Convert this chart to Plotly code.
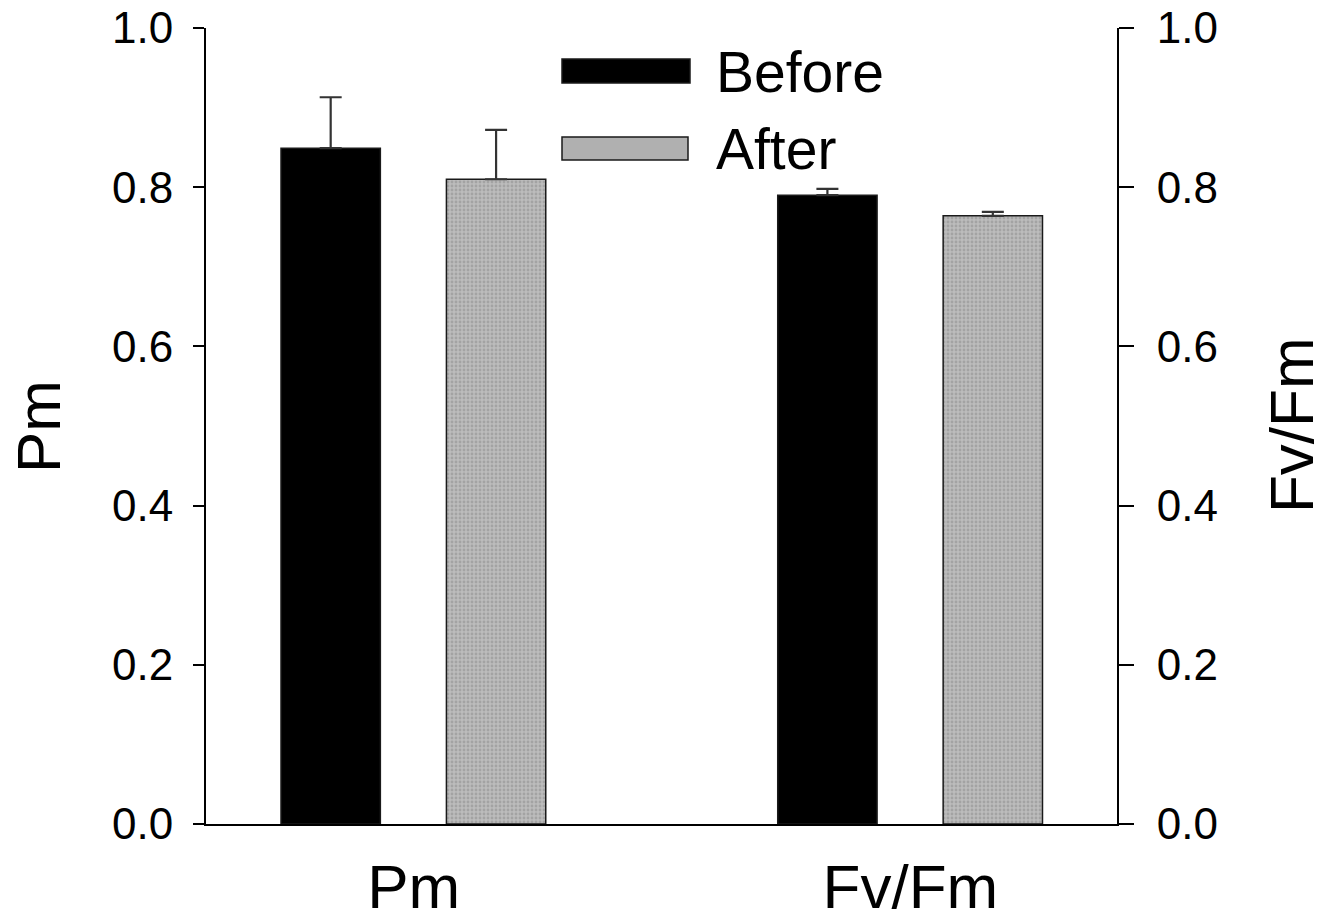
import plotly.graph_objects as go

categories = ["Pm", "Fv/Fm"]
before_vals = [0.849, 0.790]
after_vals = [0.810, 0.764]
before_err = [0.064, 0.008]
after_err = [0.062, 0.005]
y_ticks = [0.0, 0.2, 0.4, 0.6, 0.8, 1.0]
legend_names = ["Before", "After"]
left_title = "Pm"
right_title = "Fv/Fm"

FONT = "Liberation Sans, Arial, sans-serif"
W, H = 1328, 923
# plot area in page pixels: x 206..1117, y 28..824
X0, X1, Y0, Y1 = 206, 1117, 28, 824
L, T, R, B = X0, Y0, W - X1, H - Y1
pw, ph = X1 - X0, Y1 - Y0

def px(x):
    return (x - X0) / pw

def py(y):
    return (Y1 - y) / ph

fig = go.Figure()
fig.add_trace(go.Bar(
    x=categories, y=before_vals, name=legend_names[0],
    width=0.2, offset=-0.267,
    marker=dict(color="#000000", line=dict(color="#1a1a1a", width=1.5)),
    error_y=dict(type="data", symmetric=False, array=before_err,
                 arrayminus=[0] * len(before_err),
                 color="#333333", thickness=2.2, width=11),
    showlegend=False,
))
fig.add_trace(go.Bar(
    x=categories, y=after_vals, name=legend_names[1],
    width=0.2, offset=0.066,
    marker=dict(color="#b0b0b0", line=dict(color="#1a1a1a", width=1.5),
                pattern=dict(shape=".", fgcolor="#8a8a8a", bgcolor="#bcbcbc",
                             size=4, solidity=0.4)),
    error_y=dict(type="data", symmetric=False, array=after_err,
                 arrayminus=[0] * len(after_err),
                 color="#333333", thickness=2.2, width=11),
    showlegend=False,
))
# invisible trace to anchor the right axis
fig.add_trace(go.Scatter(x=[categories[0]], y=[None], yaxis="y2",
                         showlegend=False, hoverinfo="skip"))

axis_common = dict(
    range=[0, 1], tickvals=y_ticks, tickformat=".1f",
    showline=True, linecolor="#000", linewidth=2,
    ticks="outside", tickcolor="#000", tickwidth=2,
    tickfont=dict(family=FONT, size=44, color="#000"),
    showgrid=False, zeroline=False, automargin=False,
    ticklabeloverflow="allow",
)

fig.update_layout(
    width=W, height=H,
    margin=dict(l=L, r=R, t=T, b=B, pad=0),
    paper_bgcolor="white", plot_bgcolor="white",
    font=dict(family=FONT, color="#000"),
    xaxis=dict(
        type="category", range=[-0.418, 1.416],
        showline=True, linecolor="#000", linewidth=2,
        ticks="", showgrid=False, zeroline=False, automargin=False,
        tickfont=dict(family=FONT, size=62, color="#000"),
        ticklabelstandoff=8, ticklabeloverflow="allow",
    ),
    yaxis=dict(**axis_common, ticklen=11, ticklabelstandoff=11),
    yaxis2=dict(**axis_common, ticklen=15, ticklabelstandoff=14,
                overlaying="y", side="right"),
)

# axis titles as rotated annotations
fig.add_annotation(xref="paper", yref="paper", x=px(38), y=py(427), text=left_title,
                   textangle=-90, showarrow=False, xanchor="center", yanchor="middle",
                   font=dict(family=FONT, size=62, color="#000"))
fig.add_annotation(xref="paper", yref="paper", x=px(1291), y=py(425), text=right_title,
                   textangle=-90, showarrow=False, xanchor="center", yanchor="middle",
                   font=dict(family=FONT, size=62, color="#000"))

# legend drawn as shapes + text
legend_boxes = [(562, 690, 59, 83, "#000000"), (562, 688, 137, 160, "#b0b0b0")]
legend_text_y = [72, 149]
for (x0, x1, y0, y1, col), name, ty in zip(legend_boxes, legend_names, legend_text_y):
    fig.add_shape(type="rect", xref="paper", yref="paper",
                  x0=px(x0), x1=px(x1), y0=py(y1), y1=py(y0),
                  fillcolor=col, line=dict(color="#1a1a1a", width=1.5))
    fig.add_annotation(xref="paper", yref="paper", x=px(714), y=py(ty),
                       text=name, showarrow=False, xanchor="left", yanchor="middle",
                       font=dict(family=FONT, size=57, color="#000"))

fig.write_html("out.html", config={"displayModeBar": False},
               post_script="document.body.style.margin='0';")
